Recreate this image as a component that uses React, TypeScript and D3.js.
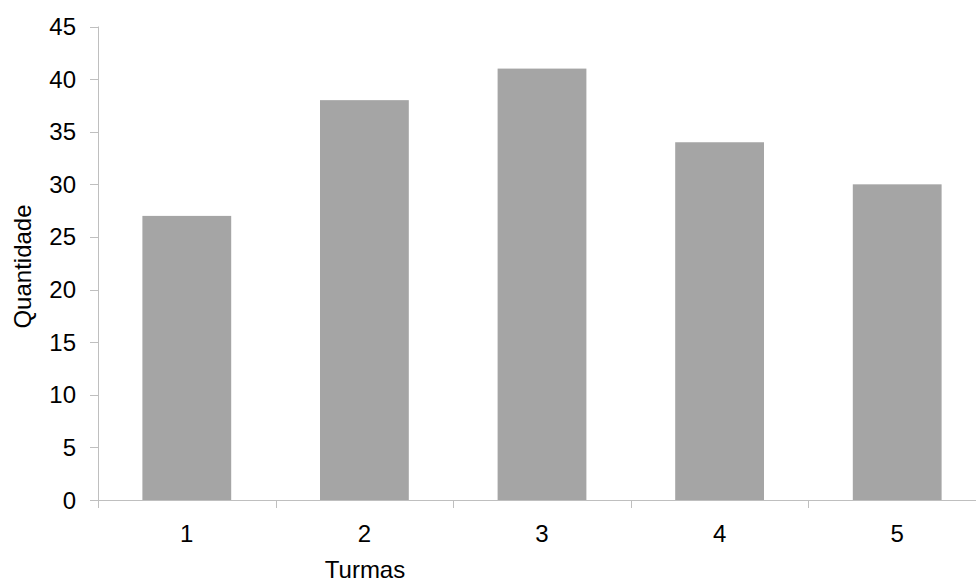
import React from "react";
import * as d3 from "d3";

const categories = ["1", "2", "3", "4", "5"];
const values = [27, 38, 41, 34, 30];
const yTicks = [0, 5, 10, 15, 20, 25, 30, 35, 40, 45];
const yTitle = "Quantidade";
const xTitle = "Turmas";

const W = 976;
const H = 582;
const FONT = "'Liberation Sans', Arial, sans-serif";

export default function App() {
  const x0 = 98;
  const x1 = 986;
  const yBase = 500;
  const yTop = 26.5;
  const x = d3.scaleBand<string>().domain(categories).range([x0, x1]).paddingInner(0.5).paddingOuter(0.25);
  const y = d3.scaleLinear().domain([0, 45]).range([yBase, yTop]);
  const step = x.step();
  const boundaries = categories.map((_, i) => x0 + i * step);
  const axisColor = "#bfbfbf";
  return (
    <svg width={W} height={H} style={{ position: "absolute", left: 0, top: 0, background: "#fff" }} fontFamily={FONT}>
      {categories.map((c, i) => (
        <rect key={c} x={x(c)} y={y(values[i])} width={x.bandwidth()} height={yBase - y(values[i])} fill="#a5a5a5" />
      ))}
      <line x1={x0 + 0.5} x2={x0 + 0.5} y1={yTop} y2={yBase} stroke={axisColor} strokeWidth={1} />
      {yTicks.map((t) => (
        <g key={t}>
          <line x1={90} x2={x0} y1={Math.round(y(t)) + 0.5} y2={Math.round(y(t)) + 0.5} stroke={axisColor} strokeWidth={1} />
          <text x={76} y={y(t) + 8.5} textAnchor="end" fontSize={24} fill="#000">{t}</text>
        </g>
      ))}
      <line x1={x0} x2={W} y1={yBase + 0.5} y2={yBase + 0.5} stroke={axisColor} strokeWidth={1} />
      {boundaries.map((b, i) => (
        <line key={i} x1={Math.round(b) + 0.5} x2={Math.round(b) + 0.5} y1={yBase} y2={yBase + 8} stroke={axisColor} strokeWidth={1} />
      ))}
      {categories.map((c) => (
        <text key={c} x={(x(c) as number) + x.bandwidth() / 2} y={542} textAnchor="middle" fontSize={24} fill="#000">{c}</text>
      ))}
      <text transform={`translate(31,266.5) rotate(-90)`} textAnchor="middle" fontSize={24} fill="#000">{yTitle}</text>
      <text x={365} y={578} textAnchor="middle" fontSize={24} fill="#000">{xTitle}</text>
    </svg>
  );
}
